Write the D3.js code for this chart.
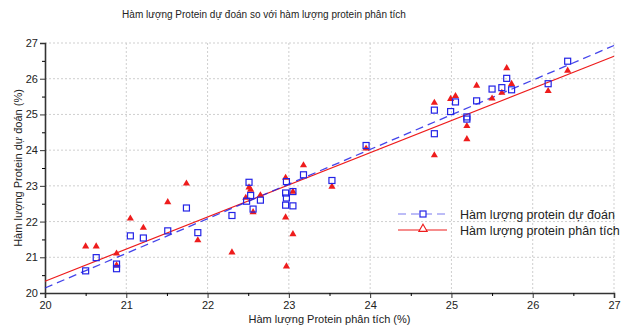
<!DOCTYPE html>
<html>
<head>
<meta charset="utf-8">
<script src="https://cdnjs.cloudflare.com/ajax/libs/d3/7.8.5/d3.min.js"></script>
<style>
  body { margin: 0; background: #fff; }
  text { font-family: "Liberation Sans", Arial, sans-serif; fill: #222; }
</style>
</head>
<body>
<div id="chart"></div>
<script>
// analysed protein (x) vs predicted protein (blue squares)
var duDoanX = [20.50, 20.63, 20.88, 20.88, 21.05, 21.21, 21.51, 21.74, 21.88, 22.30,
    22.51, 22.48, 22.53, 22.56, 22.65, 22.96, 22.97, 22.97, 22.96, 23.05,
    23.05, 23.18, 23.53, 23.95, 24.79, 24.79, 24.99, 25.05, 25.19, 25.19,
    25.31, 25.50, 25.62, 25.68, 25.74, 26.19, 26.43];
var duDoanY = [20.62, 20.99, 20.81, 20.68, 21.60, 21.54, 21.74, 22.38, 21.69, 22.17,
    23.10, 22.57, 22.73, 22.35, 22.60, 22.80, 23.12, 22.66, 22.46, 22.84,
    22.44, 23.31, 23.15, 24.13, 25.12, 24.46, 25.08, 25.35, 24.93, 24.87,
    25.38, 25.71, 25.75, 26.01, 25.69, 25.86, 26.49];

// red triangles
var phanTichX = [20.50, 20.63, 20.88, 20.88, 21.05, 21.21, 21.51, 21.74, 21.88, 22.30,
    22.47, 22.51, 22.53, 22.56, 22.65, 22.96, 22.96, 23.05, 23.05, 22.97,
    23.18, 23.53, 23.95, 24.79, 24.79, 24.99, 25.05, 25.19, 25.19, 25.31,
    25.50, 25.62, 25.68, 25.74, 26.19, 26.43];
var phanTichY = [21.32, 21.32, 21.12, 20.79, 22.10, 21.84, 22.56, 23.08, 21.49, 21.15,
    22.68, 22.97, 22.91, 22.28, 22.75, 23.24, 22.13, 22.85, 21.66, 20.76,
    23.59, 22.99, 24.06, 25.34, 23.87, 25.45, 25.53, 24.69, 24.32, 25.82,
    25.46, 25.62, 26.31, 25.87, 25.67, 26.24];

// fitted lines, value at x = 20 and x = 27
var lineEndsX = [20, 27];
var duDoanLine = [20.14, 26.93];
var phanTichLine = [20.33, 26.63];

var tickValues = [20, 21, 22, 23, 24, 25, 26, 27];
var minorTicks = [20.5, 21.5, 22.5, 23.5, 24.5, 25.5, 26.5];

var title = "Hàm lượng Protein dự đoán so với hàm lượng protein phân tích";
var xTitle = "Hàm lượng Protein phân tích (%)";
var yTitle = "Hàm lượng Protein dự đoán (%)";
var legendNames = ["Hàm lượng protein dự đoán", "Hàm lượng protein phân tích"];

var blue = "#2323e6", red = "#ee1c1c";

var svg = d3.select("#chart").append("svg").attr("width", 626).attr("height", 325);
var margin = {top: 43, right: 12, bottom: 32, left: 45};
var width = 626 - margin.left - margin.right;
var height = 325 - margin.top - margin.bottom;
var g = svg.append("g").attr("transform", "translate(" + margin.left + "," + margin.top + ")");

var x = d3.scaleLinear().domain([20, 27]).range([0, width]);
var y = d3.scaleLinear().domain([20, 27]).range([height, 0]);

// grid
g.append("g").selectAll("line").data(tickValues.slice(1)).enter().append("line")
    .attr("x1", function (d) { return x(d); }).attr("x2", function (d) { return x(d); })
    .attr("y1", 0).attr("y2", height)
    .attr("stroke", "#cfcfcf").attr("stroke-dasharray", "2,2");
g.append("g").selectAll("line").data(tickValues.slice(1)).enter().append("line")
    .attr("y1", function (d) { return y(d); }).attr("y2", function (d) { return y(d); })
    .attr("x1", 0).attr("x2", width)
    .attr("stroke", "#cfcfcf").attr("stroke-dasharray", "2,2");

// axes
var xAxis = g.append("g").attr("transform", "translate(0," + height + ")")
    .call(d3.axisBottom(x).tickValues(tickValues).tickFormat(d3.format("d")).tickSize(5).tickPadding(3));
var yAxis = g.append("g")
    .call(d3.axisLeft(y).tickValues(tickValues).tickFormat(d3.format("d")).tickSize(5).tickPadding(2));
g.append("g").attr("transform", "translate(0," + height + ")")
    .call(d3.axisBottom(x).tickValues(minorTicks).tickFormat("").tickSize(3))
    .select(".domain").remove();
g.append("g")
    .call(d3.axisLeft(y).tickValues(minorTicks).tickFormat("").tickSize(3))
    .select(".domain").remove();
[xAxis, yAxis].forEach(function (a) {
    a.select(".domain").attr("stroke", "#333").attr("stroke-width", 1.6);
    a.selectAll(".tick line").attr("stroke", "#333");
    a.selectAll(".tick text").style("font-size", "11px").attr("fill", "#222");
});

// regression lines
var line = d3.line()
    .x(function (d) { return x(d[0]); })
    .y(function (d) { return y(d[1]); });
g.append("path")
    .datum(d3.zip(lineEndsX, phanTichLine))
    .attr("fill", "none").attr("stroke", red).attr("stroke-width", 1.2)
    .attr("d", line);
g.append("path")
    .datum(d3.zip(lineEndsX, duDoanLine))
    .attr("fill", "none").attr("stroke", blue).attr("stroke-opacity", 0.85).attr("stroke-width", 1.3)
    .attr("stroke-dasharray", "8,5")
    .attr("d", line);

// points
var tri = d3.symbol().type(d3.symbolTriangle).size(22);
g.append("g").selectAll("path").data(d3.zip(phanTichX, phanTichY)).enter().append("path")
    .attr("d", tri)
    .attr("transform", function (d) { return "translate(" + x(d[0]) + "," + (y(d[1]) + 0.5) + ")"; })
    .attr("fill", red);
g.append("g").selectAll("rect").data(d3.zip(duDoanX, duDoanY)).enter().append("rect")
    .attr("x", function (d) { return x(d[0]) - 3; })
    .attr("y", function (d) { return y(d[1]) - 3; })
    .attr("width", 6).attr("height", 6)
    .attr("fill", "none").attr("stroke", blue).attr("stroke-width", 1.2);

// titles
svg.append("text").attr("x", 264).attr("y", 18).attr("text-anchor", "middle")
    .style("font-size", "10px").text(title);
svg.append("text").attr("x", margin.left + width / 2).attr("y", 323).attr("text-anchor", "middle")
    .style("font-size", "11px").text(xTitle);
svg.append("text").attr("transform", "translate(22," + (margin.top + height / 2) + ") rotate(-90)")
    .attr("text-anchor", "middle").style("font-size", "11px").text(yTitle);

// legend
var legend = svg.append("g").attr("transform", "translate(398,214)");
var legendRows = [
    {name: legendNames[0], color: blue, dash: "8,5"},
    {name: legendNames[1], color: red, dash: null}
];
legendRows.forEach(function (r, i) {
    var row = legend.append("g").attr("transform", "translate(0," + (i * 16) + ")");
    row.append("line").attr("x1", 0).attr("x2", 49).attr("y1", 0).attr("y2", 0)
        .attr("stroke", r.color).attr("stroke-width", 1.2)
        .attr("stroke-opacity", i === 0 ? 0.6 : 1)
        .attr("stroke-dasharray", r.dash);
    if (i === 0) {
        row.append("rect").attr("x", 22).attr("y", -3).attr("width", 6).attr("height", 6)
            .attr("fill", "#fff").attr("stroke", r.color).attr("stroke-width", 1.2);
    } else {
        row.append("path").attr("d", d3.symbol().type(d3.symbolTriangle).size(30))
            .attr("transform", "translate(25,-1)")
            .attr("fill", "#fff").attr("stroke", r.color).attr("stroke-width", 1.1);
    }
    row.append("text").attr("x", 62).attr("y", 5)
        .style("font-size", "12.5px").text(r.name);
});
</script>
</body>
</html>
